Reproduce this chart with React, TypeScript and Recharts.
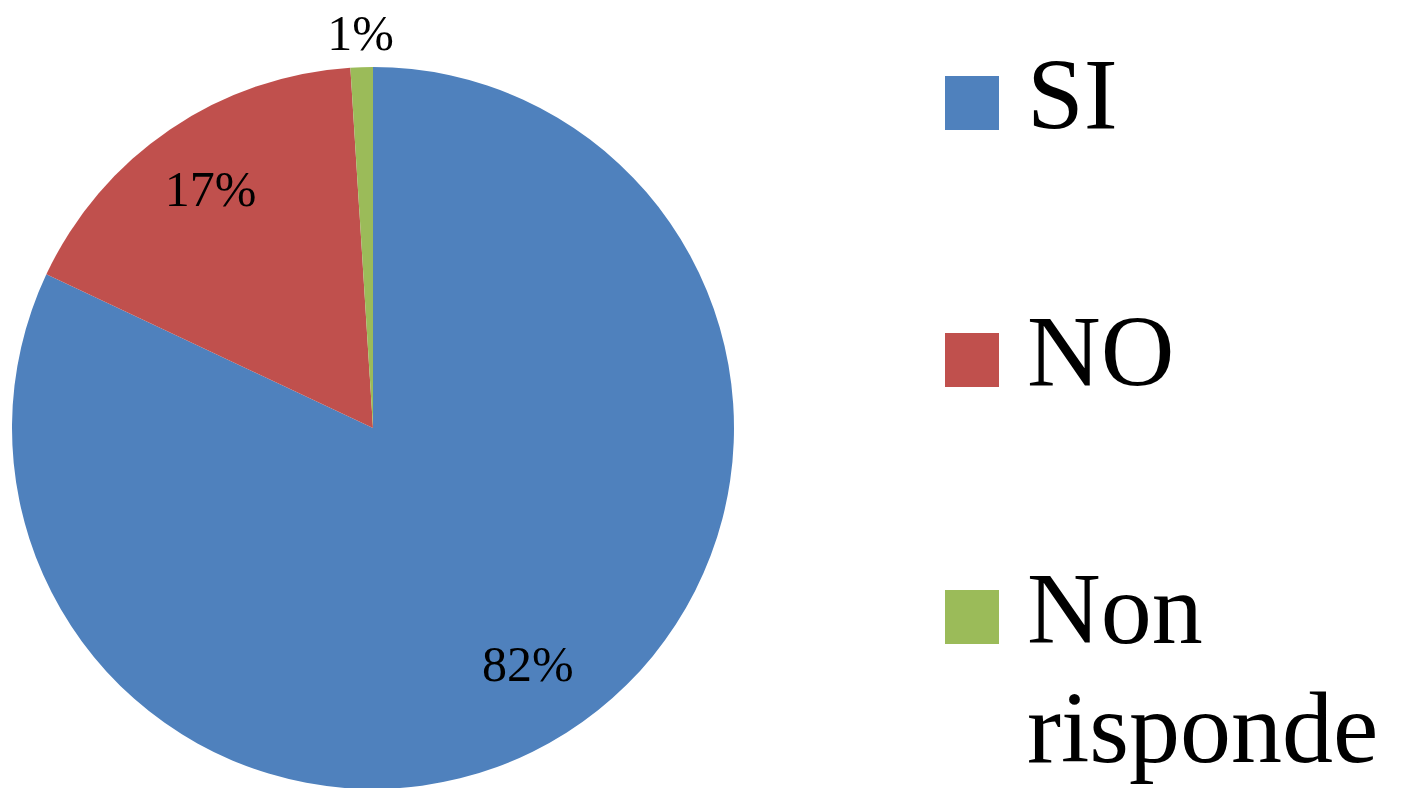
import React from 'react';
import { PieChart, Pie, Cell, Legend } from 'recharts';

const categories = ['SI', 'NO', 'Non risponde'];
const values = [82, 17, 1];
const colors = ['#4F81BD', '#C0504D', '#9BBB59'];
const legendLines = [['SI'], ['NO'], ['Non', 'risponde']];

const data = categories.map((name, i) => ({ name, value: values[i] }));

const FONT = '"Liberation Serif", "Times New Roman", serif';
const RAD = Math.PI / 180;

const renderLabel = (props: any) => {
  const { cx, cy, midAngle, outerRadius, value } = props;
  const r = value < 5 ? outerRadius + 34 : outerRadius * 0.8;
  const x = cx + r * Math.cos(-midAngle * RAD);
  const y = cy + r * Math.sin(-midAngle * RAD);
  return (
    <text
      x={x}
      y={y - (value > 50 ? 8 : 0)}
      fill="#000"
      textAnchor="middle"
      dominantBaseline="central"
      fontFamily={FONT}
      fontSize={50}
    >
      {`${value}%`}
    </text>
  );
};

const LegendContent = () => (
  <div style={{ position: 'relative', width: 460 }}>
    {categories.map((c, i) => (
      <div key={c} style={{ position: 'relative', height: 257 }}>
        <div
          style={{
            position: 'absolute',
            left: 0,
            top: 16,
            width: 54,
            height: 54,
            background: colors[i],
          }}
        />
        <div
          style={{
            position: 'absolute',
            left: 82,
            top: -25,
            fontFamily: FONT,
            fontSize: 102,
            lineHeight: '119px',
            color: '#000',
            whiteSpace: 'nowrap',
          }}
        >
          {legendLines[i].map((l) => (
            <div key={l}>{l}</div>
          ))}
        </div>
      </div>
    ))}
  </div>
);

export default function App() {
  return (
    <div style={{ position: 'absolute', left: 0, top: 0, width: 1406, height: 788, background: '#fff' }}>
      <PieChart width={1406} height={788} margin={{ top: 0, right: 0, bottom: 0, left: 0 }}>
        <Pie
          data={data}
          dataKey="value"
          nameKey="name"
          cx={373}
          cy={428}
          outerRadius={361}
          startAngle={90}
          endAngle={-270}
          stroke="none"
          label={renderLabel}
          labelLine={false}
          isAnimationActive={false}
        >
          {data.map((d, i) => (
            <Cell key={d.name} fill={colors[i]} />
          ))}
        </Pie>
        <Legend
          content={<LegendContent />}
          wrapperStyle={{ position: 'absolute', left: 945, top: 60, width: 460 }}
        />
      </PieChart>
    </div>
  );
}
